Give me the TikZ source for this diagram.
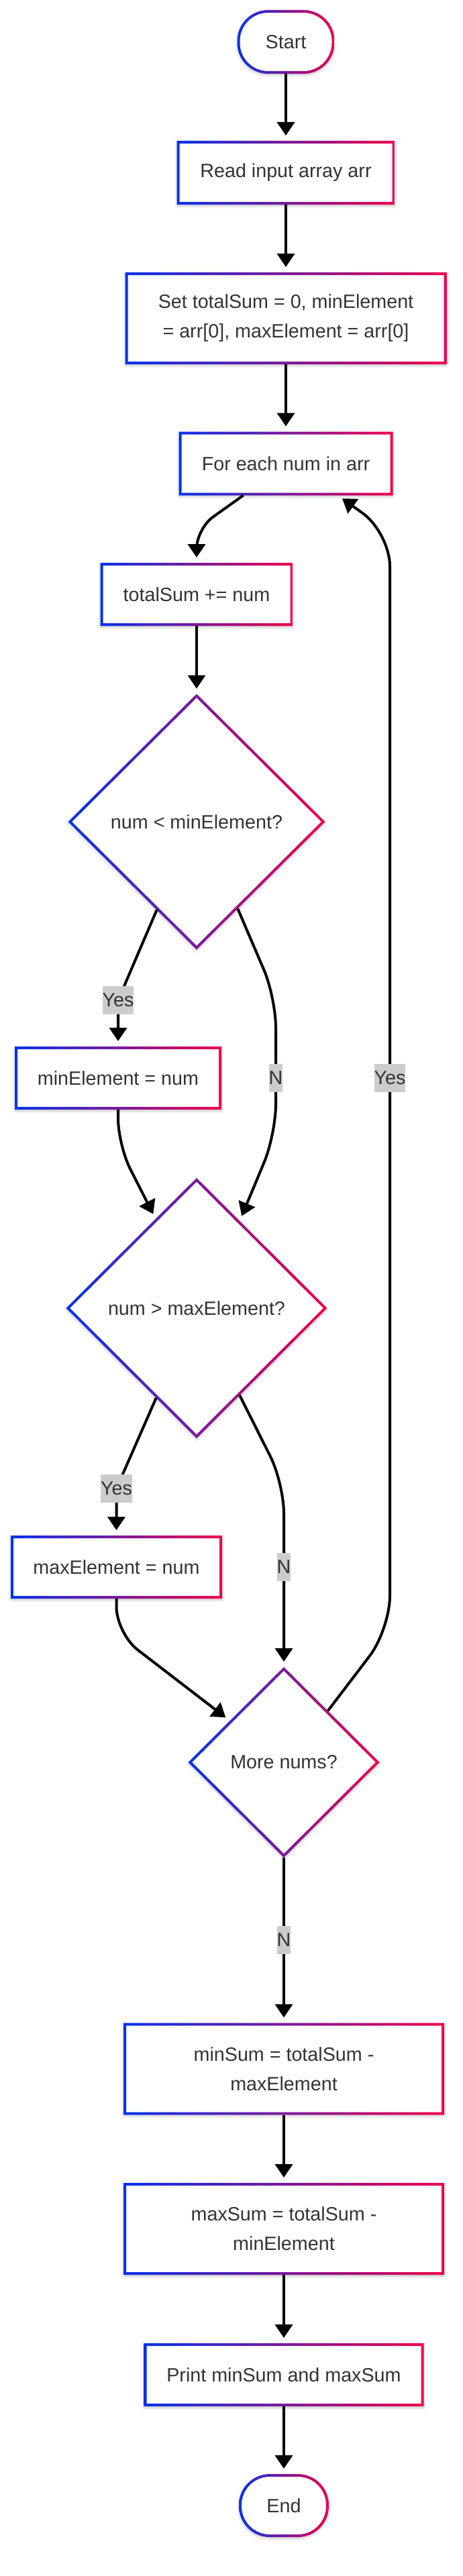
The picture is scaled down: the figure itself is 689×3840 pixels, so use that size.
\documentclass[tikz,border=0pt]{standalone}
\usepackage{fontspec}
\setmainfont{Liberation Sans}
\usetikzlibrary{arrows.meta,calc,shadows.blur}
\definecolor{cb}{RGB}{5,50,235}
\definecolor{cr}{RGB}{240,0,75}
\definecolor{txt}{RGB}{51,51,51}
\definecolor{lblbg}{RGB}{204,204,204}
\pgfdeclarelayer{background}
\pgfsetlayers{background,main}
\tikzset{
  nd/.style={rectangle, inner sep=0pt, outer sep=0pt, text=txt, align=center,
    font=\fontsize{28.7}{44}\selectfont},
  lbl/.style={rectangle, sharp corners, fill=lblbg, text=txt, inner xsep=0pt, inner ysep=0pt,
    minimum height=42pt, font=\fontsize{28.7}{44}\selectfont},
  conn/.style={line width=4pt, draw=black, -{Triangle[length=20pt,width=26pt]},
    shorten >=8pt},
  shd/.style={white, blur shadow={shadow xshift=0pt, shadow yshift=-2pt,
    shadow blur radius=4pt, shadow opacity=22}},
  grad/.style={left color=cb, right color=cr, even odd rule}
}
\newcommand{\ringR}[1]{%
  \begin{pgfonlayer}{background}
    \fill[shd] (#1.north west) rectangle (#1.south east);
  \end{pgfonlayer}
  \shade[grad] (#1.north west) rectangle (#1.south east)
    ([shift={(4,4)}]#1.north west) rectangle ([shift={(-4,-4)}]#1.south east);}
\newcommand{\ringS}[1]{%
  \begin{pgfonlayer}{background}
    \fill[shd, rounded corners=46pt] (#1.north west) rectangle (#1.south east);
  \end{pgfonlayer}
  \shade[grad] [rounded corners=46pt] (#1.north west) rectangle (#1.south east)
    [rounded corners=42pt] ([shift={(4,4)}]#1.north west) rectangle ([shift={(-4,-4)}]#1.south east);}
\newcommand{\ringD}[1]{%
  \begin{pgfonlayer}{background}
    \fill[shd] (#1.north) -- (#1.east) -- (#1.south) -- (#1.west) -- cycle;
  \end{pgfonlayer}
  \shade[grad] (#1.north) -- (#1.east) -- (#1.south) -- (#1.west) -- cycle
    ([shift={(0,5.66)}]#1.north) -- ([shift={(-5.66,0)}]#1.east) --
    ([shift={(0,-5.66)}]#1.south) -- ([shift={(5.66,0)}]#1.west) -- cycle;}
\begin{document}
\begin{tikzpicture}[x=1pt,y=-1pt]
\useasboundingbox (0,0) rectangle (689,3840);
% nodes
\node[nd, minimum width=145pt, minimum height=95pt] (nstart) at (426,62.5) {Start};
\node[nd, minimum width=325pt, minimum height=95pt] (nread) at (426,257.5) {Read input array arr};
\node[nd, minimum width=479pt, minimum height=137pt] (nset) at (426,474.5) {Set totalSum = 0, minElement\\= arr[0], maxElement = arr[0]};
\node[nd, minimum width=319pt, minimum height=95pt] (nfor) at (426,691) {For each num in arr};
\node[nd, minimum width=287pt, minimum height=94pt] (ntot) at (293,886) {totalSum += num};
\node[nd, minimum width=383pt, minimum height=381pt] (nd1) at (293,1225) {num < minElement?};
\node[nd, minimum width=308pt, minimum height=94pt] (nmin) at (176,1607) {minElement = num};
\node[nd, minimum width=389pt, minimum height=388pt] (nd2) at (293,1950) {num > maxElement?};
\node[nd, minimum width=315pt, minimum height=94pt] (nmax) at (173.5,2336) {maxElement = num};
\node[nd, minimum width=285pt, minimum height=284pt] (nd3) at (423,2627) {More nums?};
\node[nd, minimum width=478pt, minimum height=137pt] (nmins) at (423,3084) {minSum = totalSum -\\maxElement};
\node[nd, minimum width=478pt, minimum height=137pt] (nmaxs) at (423,3322.5) {maxSum = totalSum -\\minElement};
\node[nd, minimum width=417pt, minimum height=94pt] (nprt) at (423,3540) {Print minSum and maxSum};
\node[nd, minimum width=134pt, minimum height=94pt] (nend) at (423,3735) {End};
% borders
\ringS{nstart}
\ringR{nread}
\ringR{nset}
\ringR{nfor}
\ringR{ntot}
\ringD{nd1}
\ringR{nmin}
\ringD{nd2}
\ringR{nmax}
\ringD{nd3}
\ringR{nmins}
\ringR{nmaxs}
\ringR{nprt}
\ringS{nend}
% connectors
\draw[conn] (nstart) -- (nread);
\draw[conn] (nread) -- (nset);
\draw[conn] (nset) -- (nfor);
\draw[conn, rounded corners=30pt] ([xshift=-63.5pt]nfor.south) -- (293,788) -- (ntot.north);
\draw[conn] (ntot) -- (nd1.north);
\draw[conn, rounded corners=20pt] ($(nd1.west)!0.69!(nd1.south)$) -- (176,1491) node[lbl]{Yes} -- (nmin.north);
\draw[conn, rounded corners=45pt] ($(nd1.south)!0.32!(nd1.east)$) -- (411,1487) -- (411,1607) node[lbl]{N} -- (411,1691) -- ($(nd2.north)!0.33!(nd2.east)$);
\draw[conn, rounded corners=40pt] (nmin.south) -- (176,1707) -- ($(nd2.west)!0.686!(nd2.north)$);
\draw[conn, rounded corners=20pt] ($(nd2.west)!0.69!(nd2.south)$) -- (173.5,2219) node[lbl]{Yes} -- (nmax.north);
\draw[conn, rounded corners=45pt] ($(nd2.south)!0.33!(nd2.east)$) -- (423,2211) -- (423,2336) node[lbl]{N} -- (nd3.north);
\draw[conn, rounded corners=40pt] (nmax.south) -- (173.5,2435) -- ($(nd3.west)!0.436!(nd3.north)$);
\draw[conn, rounded corners=50pt] ($(nd3.north)!0.46!(nd3.east)$) -- (581,2429) -- (581,1607) node[lbl]{Yes} -- (581,794) -- ([xshift=77.5pt]nfor.south);
\draw[conn] (nd3.south) -- (423,2892) node[lbl]{N} -- (nmins.north);
\draw[conn] (nmins) -- (nmaxs);
\draw[conn] (nmaxs) -- (nprt);
\draw[conn] (nprt) -- (nend);
\end{tikzpicture}
\end{document}
